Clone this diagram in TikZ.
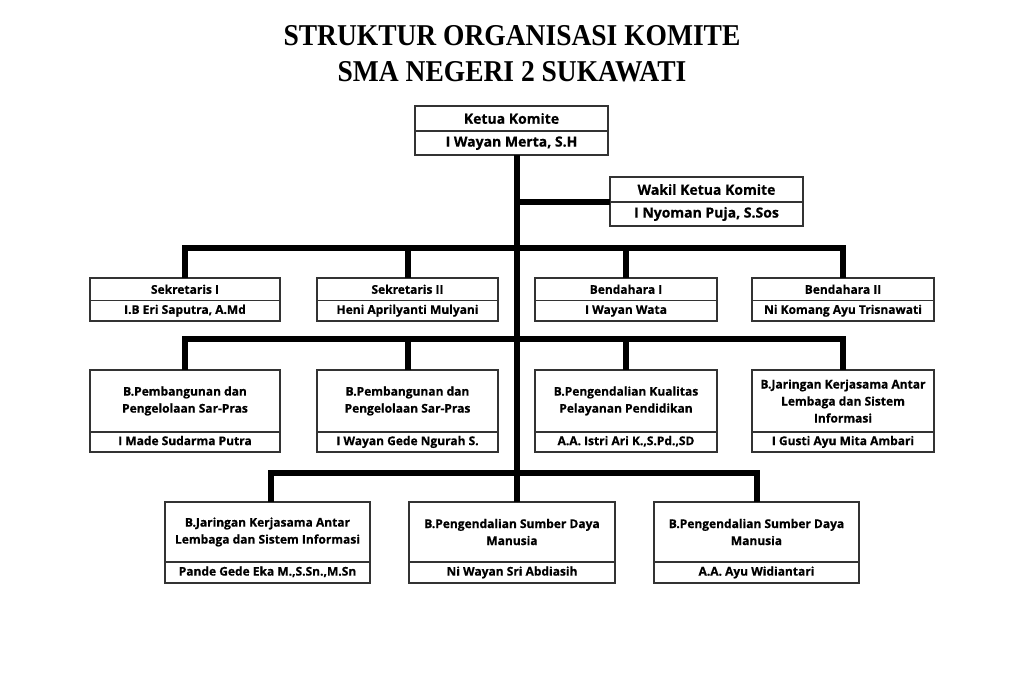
\documentclass[tikz,border=0pt]{standalone}
\usepackage{fontspec}
\setmainfont{Liberation Serif}
\newfontfamily\boxfont{Open Sans}[BoldFeatures={FakeBold=0.6}]
\newcommand\obox[9]{%
  \node[#2, minimum width={#4-#3}, minimum height={#6-#5}] (#1t) at (#3,#5) {#8};
  \node[#2, #2h, minimum width={#4-#3}, minimum height={#7-#6}] (#1n) at (#3,#6) {#9};
}
\begin{document}
\begin{tikzpicture}[x=1pt,y=-1pt,
  conn/.style={line width=6pt, draw=black, line join=miter},
  part/.style={draw=black!80, line width=1.3pt, fill=white, anchor=north west,
    inner sep=0pt, outer sep=0pt, align=center,
    font=\boxfont\bfseries\fontsize{12}{17}\selectfont},
  parth/.style={text height=8.8pt, text depth=2.6pt},
  bigpart/.style={part, font=\boxfont\bfseries\fontsize{14}{18}\selectfont},
  bigparth/.style={text height=10.2pt, text depth=3pt},
  ttl/.style={anchor=base, inner sep=0pt, yscale=1.1, transform shape,
    font=\bfseries\fontsize{27.5}{32}\selectfont}
]
\fill[white] (0,0) rectangle (1024,682);
\useasboundingbox (0,0) rectangle (1024,682);

\node[ttl] (title1) at (512,46) {STRUKTUR ORGANISASI KOMITE};
\node[ttl] (title2) at (512,82) {SMA NEGERI 2 SUKAWATI};

% top
\obox{ket}{bigpart}{415}{608}{106}{131}{155}{Ketua Komite}{I Wayan Merta, S.H}
\obox{wak}{bigpart}{610}{803}{177}{202}{226}{Wakil Ketua Komite}{I Nyoman Puja, S.Sos}

% row 1
\obox{sa}{part}{90}{280}{278}{300.5}{321}{Sekretaris I}{I.B Eri Saputra, A.Md}
\obox{sb}{part}{317}{498}{278}{300.5}{321}{Sekretaris II}{Heni Aprilyanti Mulyani}
\obox{ba}{part}{535}{717}{278}{300.5}{321}{Bendahara I}{I Wayan Wata}
\obox{bb}{part}{752}{934}{278}{300.5}{321}{Bendahara II}{Ni Komang Ayu Trisnawati}

% row 2
\obox{pa}{part}{90}{280}{370}{432}{452}{B.Pembangunan dan\\Pengelolaan Sar-Pras}{I Made Sudarma Putra}
\obox{pb}{part}{317}{498}{370}{432}{452}{B.Pembangunan dan\\Pengelolaan Sar-Pras}{I Wayan Gede Ngurah S.}
\obox{pc}{part}{535}{717}{370}{432}{452}{B.Pengendalian Kualitas\\Pelayanan Pendidikan}{A.A. Istri Ari K.,S.Pd.,SD}
\obox{pd}{part}{752}{934}{370}{432}{452}{B.Jaringan Kerjasama Antar\\Lembaga dan Sistem\\Informasi}{I Gusti Ayu Mita Ambari}

% row 3
\obox{qa}{part}{165}{370}{502}{562}{583}{B.Jaringan Kerjasama Antar\\Lembaga dan Sistem Informasi}{Pande Gede Eka M.,S.Sn.,M.Sn}
\obox{qb}{part}{409}{615}{502}{562}{583}{B.Pengendalian Sumber Daya\\Manusia}{Ni Wayan Sri Abdiasih}
\obox{qc}{part}{654}{859}{502}{562}{583}{B.Pengendalian Sumber Daya\\Manusia}{A.A. Ayu Widiantari}

% junctions on the trunk
\coordinate (j1) at (517,247.5);
\coordinate (j2) at (517,338.5);
\coordinate (j3) at (517,473);

% trunk and wakil
\draw[conn] (ketn.south -| j3) -- (j3);
\draw[conn] (wakt.south west) -- (wakt.south west -| j3);

% row 1
\draw[conn] (sat.north) |- (j1) -| (bbt.north);
\draw[conn] (sbt.north) -- (sbt.north |- j1);
\draw[conn] (bat.north) -- (bat.north |- j1);

% row 2
\draw[conn] (pat.north) |- (j2) -| (pdt.north);
\draw[conn] (pbt.north) -- (pbt.north |- j2);
\draw[conn] (pct.north) -- (pct.north |- j2);

% row 3
\draw[conn] ([xshift=3pt]qat.north) |- (j3) -| (qct.north);
\draw[conn] (j3) -- (qbt.north -| j3);
\end{tikzpicture}
\end{document}
